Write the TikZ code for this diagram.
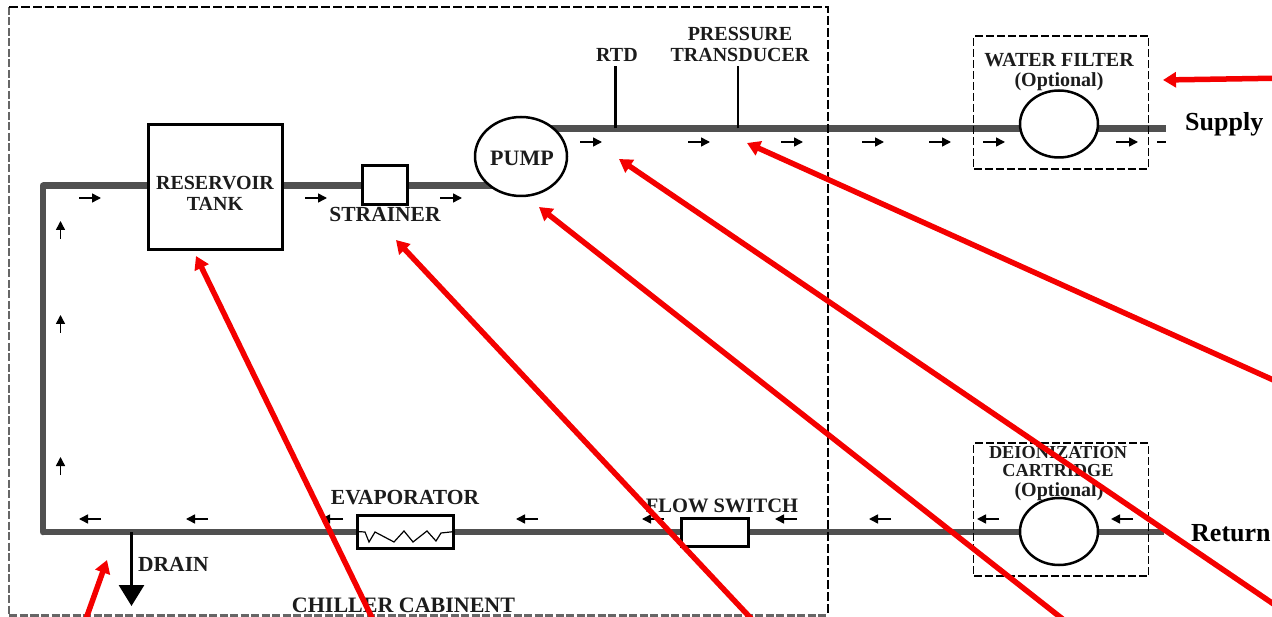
\documentclass[tikz,border=0pt]{standalone}
\usepackage{fontspec}
\setmainfont{Liberation Serif}
\usetikzlibrary{arrows.meta,shapes.geometric,backgrounds}
\definecolor{pipecol}{HTML}{505050}
\definecolor{inkcol}{HTML}{1C1C1C}
\definecolor{redcol}{HTML}{F40000}
\tikzset{
  pipe/.style={draw=pipecol,line width=6.5pt},
  box/.style={draw=black,fill=white,rectangle,inner sep=0pt,line width=3pt},
  round/.style={draw=black,fill=white,ellipse,inner sep=0pt,line width=2.5pt,minimum width=78pt,minimum height=67pt},
  lab/.style={inner sep=0pt,text=inkcol,font=\fontsize{20}{20}\selectfont\bfseries},
  biglab/.style={inner sep=0pt,text=black,font=\fontsize{26}{26}\selectfont\bfseries},
  flow/.style={draw=black,line width=1.5pt,-{Triangle[length=9pt,width=9pt]}},
  probe/.style={draw=black,line width=2.5pt},
  frame/.style={draw=black,line width=1.4pt,dash pattern=on 9pt off 3pt},
  framegrey/.style={draw=black!60,line width=2.6pt,dash pattern=on 8pt off 2.5pt},
  callout/.style={draw=redcol,line width=5.5pt,-{Triangle[length=13pt,width=15pt]}},
}
\begin{document}
\begin{tikzpicture}[x=1pt,y=-1pt]
\useasboundingbox (0,0) rectangle (1272,617);
\clip (0,0) rectangle (1272,617);

% equipment
\node[box,minimum width=134pt,minimum height=125pt] (tank) at (215.5,187.5) {};
\node[box,minimum width=45pt,minimum height=39pt] (strainer) at (385,185.5) {};
\node[round,minimum width=92pt,minimum height=79pt] (pump) at (521,156.5) {};
\node[round] (filter) at (1059,124) {};
\node[round] (deion) at (1059,531.5) {};
\node[box,minimum width=96pt,minimum height=33pt] (evap) at (405.5,531.5) {};
\node[box,minimum width=67pt,minimum height=28pt] (flowsw) at (715,532) {};

% junctions and free ends
\coordinate (cornerTL) at (43,185.5);
\coordinate (cornerBL) at (43,532);
\coordinate (supplyEnd) at (1166,128.5);
\coordinate (returnEnd) at (1164,532);
\coordinate (drainTee) at (131.5,532);
\coordinate (drainEnd) at (131.5,606);
\coordinate (rtdTee) at (615.5,128.5);
\coordinate (rtdTop) at (615.5,66);
\coordinate (ptTee) at (738,128.5);
\coordinate (ptTop) at (738,66);

\begin{scope}[on background layer]
  \fill[white] (0,0) rectangle (1272,617);
  \draw[pipe,line cap=round] (cornerBL) -- (cornerTL);
  \draw[pipe] (cornerTL) -- (cornerTL -| tank.west);
  \draw[pipe] (cornerTL -| tank.east) -- (strainer.west);
  \draw[pipe] (strainer.east) -- (strainer.east -| pump.center);
  \draw[pipe] (pump.center |- supplyEnd) -- (supplyEnd);
  \draw[pipe] (returnEnd) -- (cornerBL);
\end{scope}

% frames
\coordinate (cabTL) at (9,7);
\coordinate (cabTR) at (828,7);
\coordinate (cabBR) at (828,615.5);
\coordinate (cabBL) at (9,615.5);
\draw[framegrey] (cabTL) -- (cabBL) -- (cabBR);
\draw[frame] (cabTL) -- (cabTR) -- (cabBR);
\node[draw=black,line width=1.4pt,dash pattern=on 8pt off 3pt,rectangle,inner sep=0pt,minimum width=174.5pt,minimum height=133pt] (filterframe) at (1061,102.5) {};
\node[draw=black,line width=1.4pt,dash pattern=on 8pt off 3pt,rectangle,inner sep=0pt,minimum width=174.5pt,minimum height=133pt] (deionframe) at (1061,509.5) {};

\draw[probe] (rtdTee) -- (rtdTop);
\draw[probe] (ptTee) -- (ptTop);
\draw[draw=black,line width=3pt,-{Triangle[length=21pt,width=25pt]}] (drainTee) -- (drainEnd);

% evaporator coil
\draw[black,line width=1.2pt] (evap.west) -- (365,532) -- (369,542) -- (375,532) -- (394,542) -- (404,531) -- (413,542) -- (427,531) -- (436,541) -- (441,533) -- (evap.east);

% flow direction marks
\foreach \x in {580,688,781,862,929,983,1116} \draw[flow] (\x,142) -- (\x+22,142);
\foreach \x in {79,305,440} \draw[flow] (\x,198) -- (\x+22,198);
\foreach \x in {101,208,343,538,664,797,891,999,1133} \draw[flow] (\x,519) -- (\x-22,519);
\foreach \y in {239,333,475} \draw[flow] (60.5,\y) -- (60.5,\y-18);
\draw[black,line width=1.5pt] (1157,142) -- (1166,142);

% labels
\node[lab] (lblReservoir) at (215,183) {RESERVOIR};
\node[lab] (lblTank) at (215,204) {TANK};
\node[lab,font=\fontsize{21.5}{21.5}\selectfont\bfseries] (lblStrainer) at (385,214) {STRAINER};
\node[lab,font=\fontsize{22}{22}\selectfont\bfseries] (lblPump) at (522,158) {PUMP};
\node[lab] (lblRtd) at (617,55) {RTD};
\node[lab] (lblPressure) at (740,34) {PRESSURE};
\node[lab] (lblTrans) at (740,55) {TRANSDUCER};
\node[lab] (lblWater) at (1059,60) {WATER FILTER};
\node[lab] (lblOpt1) at (1059,82) {(Optional)};
\node[lab,font=\fontsize{18.3}{18.3}\selectfont\bfseries] (lblDeion) at (1058,453) {DEIONIZATION};
\node[lab,font=\fontsize{18.3}{18.3}\selectfont\bfseries] (lblCart) at (1058,471) {CARTRIDGE};
\node[lab] (lblOpt2) at (1059,491.5) {(Optional)};
\node[lab,font=\fontsize{21.5}{21.5}\selectfont\bfseries] (lblEvap) at (405,498) {EVAPORATOR};
\node[lab,font=\fontsize{20.5}{20.5}\selectfont\bfseries] (lblFlow) at (722,506) {FLOW SWITCH};
\node[lab,anchor=west,font=\fontsize{21.5}{21.5}\selectfont\bfseries] (lblDrain) at (138,564) {DRAIN};
\node[lab,font=\fontsize{22}{22}\selectfont\bfseries] (lblCab) at (403.5,605) {CHILLER CABINENT};
\node[biglab,anchor=west] (lblSupply) at (1185,124) {Supply};
\node[biglab,anchor=west] (lblReturn) at (1191,533) {Return};

% red callouts
\coordinate (tipTank) at (196,256);
\coordinate (tailTank) at (377,628);
\coordinate (tipStrainer) at (396,240);
\coordinate (tailStrainer) at (760,628);
\coordinate (tipPump) at (539,207);
\coordinate (tailPump) at (1074,628);
\coordinate (tipRtd) at (619,159);
\coordinate (tailRtd) at (1300,622);
\coordinate (tipPt) at (747,143);
\coordinate (tailPt) at (1300,392);
\coordinate (tipFilter) at (1163,80);
\coordinate (tailFilter) at (1290,78);
\coordinate (tipDrain) at (107,560);
\coordinate (tailDrain) at (82,630);
\foreach \a in {Tank,Strainer,Pump,Rtd,Pt,Filter,Drain}
  \draw[callout] (tail\a) -- (tip\a);
\end{tikzpicture}
\end{document}
